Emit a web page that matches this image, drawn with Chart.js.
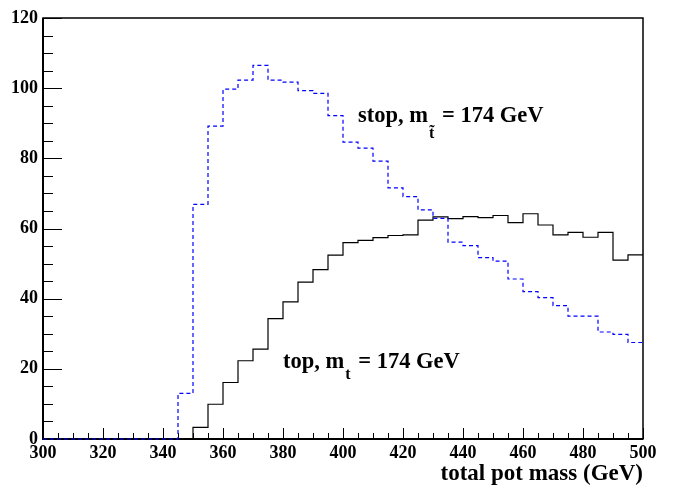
<!DOCTYPE html>
<html>
<head>
<meta charset="utf-8">
<script src="https://cdn.jsdelivr.net/npm/chart.js@4.4.0/dist/chart.umd.min.js"></script>
<style>
  html, body { margin: 0; padding: 0; background: #fff; }
  #wrap { width: 678px; height: 488px; }
</style>
</head>
<body>
<div id="wrap"><canvas id="c" width="678" height="488"></canvas></div>
<script>
// Bin low edges (GeV), 5 GeV bins, plus the upper edge
const binLowEdges = [300,305,310,315,320,325,330,335,340,345,350,355,360,365,370,375,380,385,390,395,
                     400,405,410,415,420,425,430,435,440,445,450,455,460,465,470,475,480,485,490,495];
const upperEdge = 500;
// stop, m_t~ = 174 GeV (blue dashed)
const stopCounts = [0,0,0,0,0,0,0,0,0,13.0,66.9,89.2,99.7,102.3,106.5,102.3,101.7,99.3,98.5,92.2,
                    84.6,82.9,79.2,71.6,69.1,65.3,62.9,56.1,55.1,51.7,50.7,45.6,42.0,40.3,38.0,35.0,35.0,30.5,29.8,27.5];
// top, m_t = 174 GeV (black solid)
const topCounts = [0,0,0,0,0,0,0,0,0,0,3.3,9.9,16.1,22.3,25.6,34.3,39.1,44.7,48.3,52.4,
                   56.0,56.6,57.4,58.0,58.2,62.4,63.3,62.8,63.4,63.1,63.7,61.7,64.2,61.0,58.2,58.9,57.5,58.9,51.0,52.5];
const xTickLabels = [300,320,340,360,380,400,420,440,460,480,500];
const yTickLabels = [0,20,40,60,80,100,120];
const xTitle = 'total pot mass (GeV)';

function histPoints(counts) {
  const pts = binLowEdges.map((x, i) => ({x: x, y: counts[i]}));
  pts.push({x: upperEdge, y: counts[counts.length - 1]});
  return pts;
}

const FONT = "'Liberation Serif', 'Times New Roman', serif";

const framePlugin = {
  id: 'frame',
  beforeDatasetsDraw(chart) {
    const ctx = chart.ctx;
    const a = chart.chartArea;
    const xs = chart.scales.x, ys = chart.scales.y;
    ctx.save();
    ctx.strokeStyle = '#000';
    ctx.lineWidth = 1;
    // ticks (inward)
    ctx.beginPath();
    for (let v = xs.min; v <= xs.max; v += 5) {
      const px = Math.round(xs.getPixelForValue(v)) + 0.5;
      const len = (v % 20 === 0) ? 11 : 6;
      ctx.moveTo(px, a.bottom);
      ctx.lineTo(px, a.bottom - len);
    }
    for (let v = ys.min; v <= ys.max; v += 5) {
      const py = Math.round(ys.getPixelForValue(v)) + 0.5;
      const len = (v % 20 === 0) ? 19 : 10;
      ctx.moveTo(a.left, py);
      ctx.lineTo(a.left + len, py);
    }
    ctx.stroke();
    // frame
    ctx.lineWidth = 1.5;
    ctx.strokeRect(a.left, a.top, a.right - a.left, a.bottom - a.top);
    ctx.lineWidth = 2;
    ctx.beginPath();
    ctx.moveTo(a.left, a.top); ctx.lineTo(a.left, a.bottom); ctx.lineTo(a.right, a.bottom);
    ctx.stroke();
    ctx.restore();
  },
  afterDatasetsDraw(chart) {
    const ctx = chart.ctx;
    ctx.save();
    ctx.fillStyle = '#000';
    ctx.textBaseline = 'alphabetic';
    ctx.textAlign = 'left';
    function label(x, y, pre, sub, post, subDy) {
      ctx.font = 'bold 22.5px ' + FONT;
      ctx.fillText(pre, x, y);
      let w = ctx.measureText(pre).width + 1;
      ctx.font = 'bold 16px ' + FONT;
      ctx.fillText(sub, x + w, y + subDy);
      w += ctx.measureText(sub).width + 2;
      ctx.font = 'bold 22.5px ' + FONT;
      ctx.fillText(post, x + w, y);
    }
    label(358, 122, 'stop, m', 't\u0303', ' = 174 GeV', 16);
    label(283, 368, 'top, m', 't', ' = 174 GeV', 11);
    ctx.restore();
  }
};

new Chart(document.getElementById('c'), {
  type: 'line',
  data: {
    datasets: [
      {
        label: 'stop',
        data: histPoints(stopCounts),
        stepped: 'before',
        borderColor: '#0000ff',
        borderWidth: 1.2,
        borderDash: [4, 3],
        pointRadius: 0,
        fill: false,
        clip: 3
      },
      {
        label: 'top',
        data: histPoints(topCounts),
        stepped: 'before',
        borderColor: '#000000',
        borderWidth: 1.2,
        pointRadius: 0,
        fill: false,
        clip: 3
      }
    ]
  },
  options: {
    responsive: false,
    animation: false,
    layout: { padding: { top: 18, right: 35, left: 0, bottom: 0 } },
    plugins: { legend: { display: false }, tooltip: { enabled: false } },
    scales: {
      x: {
        type: 'linear',
        min: 300, max: 500,
        afterFit(s) { s.height = 49; },
        afterBuildTicks(s) { s.ticks = xTickLabels.map(v => ({value: v})); },
        grid: { display: false, drawTicks: false },
        border: { display: false },
        ticks: {
          padding: 4,
          color: '#000',
          maxRotation: 0,
          autoSkip: false,
          font: { family: FONT, size: 18, weight: 'bold' }
        },
        title: {
          display: true,
          text: xTitle,
          align: 'end',
          color: '#000',
          padding: { top: 0, bottom: 0 },
          font: { family: FONT, size: 23, weight: 'bold' }
        }
      },
      y: {
        type: 'linear',
        min: 0, max: 120,
        afterFit(s) { s.width = 43; },
        afterBuildTicks(s) { s.ticks = yTickLabels.map(v => ({value: v})); },
        grid: { display: false, drawTicks: false },
        border: { display: false },
        ticks: {
          padding: 5,
          color: '#000',
          autoSkip: false,
          font: { family: FONT, size: 18, weight: 'bold' }
        }
      }
    }
  },
  plugins: [framePlugin]
});
</script>
</body>
</html>
